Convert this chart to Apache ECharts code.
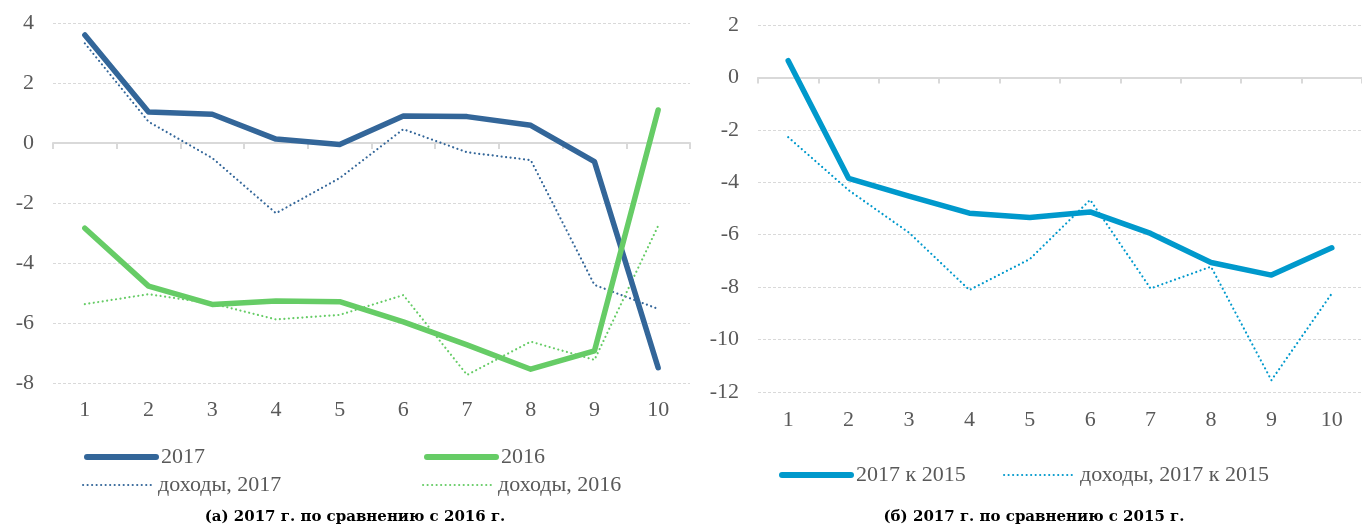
<!DOCTYPE html>
<html>
<head>
<meta charset="utf-8">
<script src="https://cdn.jsdelivr.net/npm/echarts@6/dist/echarts.min.js"></script>
<style>
  html, body { margin: 0; padding: 0; background: #fff; }
  #chart { width: 1362px; height: 524px; }
</style>
</head>
<body>
<div id="chart"></div>
<script>
// categories (deciles)
var categories = ['1', '2', '3', '4', '5', '6', '7', '8', '9', '10'];

// (a) 2017 vs 2016
var s2017 = [3.6, 1.03, 0.96, 0.13, -0.05, 0.9, 0.88, 0.59, -0.62, -7.49];
var inc2017 = [3.32, 0.71, -0.5, -2.34, -1.17, 0.46, -0.31, -0.57, -4.73, -5.53];
var s2016 = [-2.84, -4.77, -5.38, -5.27, -5.29, -5.96, -6.73, -7.54, -6.93, 1.1];
var inc2016 = [-5.37, -5.04, -5.35, -5.88, -5.73, -5.07, -7.73, -6.62, -7.23, -2.76];

// (б) 2017 vs 2015
var s2017to2015 = [0.64, -3.85, -4.53, -5.18, -5.34, -5.13, -5.95, -7.06, -7.54, -6.5];
var inc2017to2015 = [-2.28, -4.3, -5.92, -8.11, -6.93, -4.67, -8.05, -7.22, -11.55, -8.24];

var FONT = 'Liberation Serif';
var TXT = '#595959';
var GRID_LINE = '#d9d9d9';
var DOTS = [0.01, 4.5];

var chart = echarts.init(document.getElementById('chart'));

function labelAxis(gridIndex, margin) {
    return {
        type: 'category', gridIndex: gridIndex, data: categories, boundaryGap: true,
        position: 'bottom',
        axisLine: { show: false, onZero: false },
        axisTick: { show: false },
        axisLabel: { color: TXT, fontFamily: FONT, fontSize: 22, margin: margin }
    };
}
function zeroAxis(gridIndex) {
    return {
        type: 'category', gridIndex: gridIndex, data: categories, boundaryGap: true,
        position: 'bottom',
        axisLine: { show: true, onZero: true, lineStyle: { color: GRID_LINE, width: 2 } },
        axisTick: { show: true, length: 6, lineStyle: { color: GRID_LINE, width: 2 } },
        axisLabel: { show: false }
    };
}
function valAxis(gridIndex, min, max) {
    return {
        type: 'value', gridIndex: gridIndex, min: min, max: max, interval: 2,
        axisLine: { show: false }, axisTick: { show: false },
        axisLabel: { color: TXT, fontFamily: FONT, fontSize: 22, margin: 19 },
        splitLine: { lineStyle: { color: GRID_LINE, width: 1, type: [3, 2] } }
    };
}
function line(name, data, color, dotted, xi, yi) {
    return {
        name: name, type: 'line', data: data, xAxisIndex: xi, yAxisIndex: yi,
        symbol: 'none', silent: true, z: dotted ? 2 : 3,
        lineStyle: dotted
            ? { color: color, width: 2.2, type: DOTS, cap: 'round' }
            : { color: color, width: 5.5, cap: 'round', join: 'round' },
        itemStyle: { color: color }
    };
}
function legend(name, left, top, w, dotted) {
    return {
        data: [name], left: left, top: top, itemWidth: w, itemHeight: 12, itemGap: 6,
        selectedMode: false,
        itemStyle: { opacity: 0 },
        lineStyle: dotted
            ? { width: 2.2, type: DOTS, cap: 'round' }
            : { width: 6, type: 'solid', cap: 'round' },
        textStyle: { color: TXT, fontFamily: FONT, fontSize: 22, padding: [0, 0, 0, 0] }
    };
}

chart.setOption({
    animation: false,
    title: [
        { text: '(а) 2017 г. по сравнению с 2016 г.', left: 350, top: 505, textAlign: 'center',
          textStyle: { fontFamily: 'DejaVu Serif', fontWeight: 'bold', fontSize: 15, color: '#000' } },
        { text: '(б) 2017 г. по сравнению с 2015 г.', left: 1029, top: 505, textAlign: 'center',
          textStyle: { fontFamily: 'DejaVu Serif', fontWeight: 'bold', fontSize: 15, color: '#000' } }
    ],
    legend: [
        legend('2017', 79, 441, 69, false),
        legend('2016', 419, 441, 69, false),
        legend('доходы, 2017', 77, 469, 70, true),
        legend('доходы, 2016', 417, 469, 70, true),
        legend('2017 к 2015', 774, 459, 69, false),
        legend('доходы, 2017 к 2015', 998, 459, 71, true)
    ],
    grid: [
        { left: 53, top: 23, width: 637, height: 360 },
        { left: 758, top: 25, width: 612, height: 367 }
    ],
    xAxis: [labelAxis(0, 16), zeroAxis(0), labelAxis(1, 17), zeroAxis(1)],
    yAxis: [valAxis(0, -8, 4), valAxis(1, -12, 2)],
    series: [
        line('доходы, 2017', inc2017, '#336699', true, 0, 0),
        line('доходы, 2016', inc2016, '#66CC66', true, 0, 0),
        line('2017', s2017, '#336699', false, 0, 0),
        line('2016', s2016, '#66CC66', false, 0, 0),
        line('доходы, 2017 к 2015', inc2017to2015, '#0099CC', true, 2, 1),
        line('2017 к 2015', s2017to2015, '#0099CC', false, 2, 1)
    ]
});
</script>
</body>
</html>
